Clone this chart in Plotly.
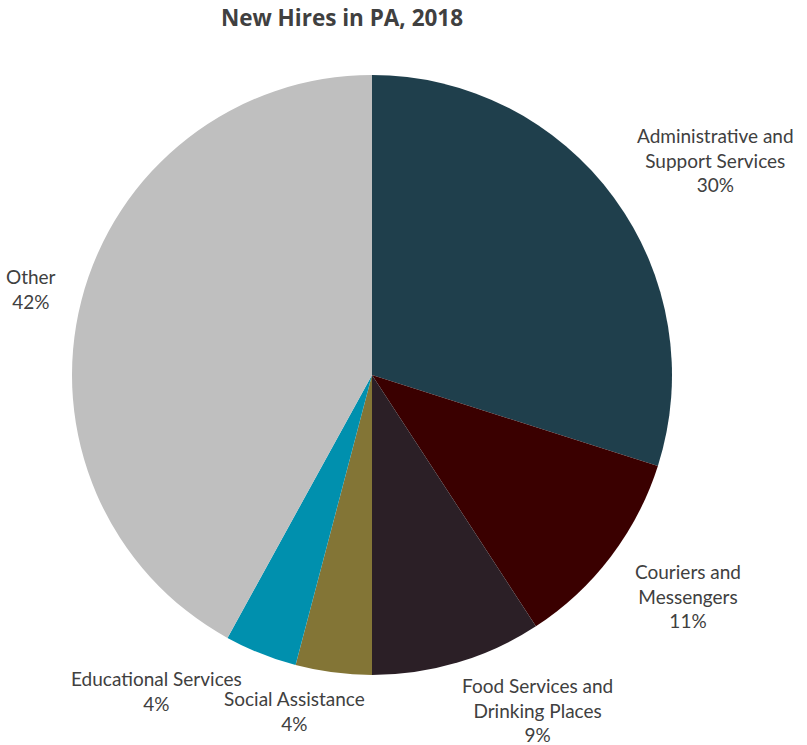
import plotly.graph_objects as go

# New hires by industry sector, Pennsylvania 2018 (share of total)
sectors = [
    "Administrative and<br>Support Services",
    "Couriers and<br>Messengers",
    "Food Services and<br>Drinking Places",
    "Social Assistance",
    "Educational Services",
    "Other",
]
shares = [29.9, 10.9, 9.2, 4.1, 3.9, 42.0]
colors = ["#1F3F4C", "#3A0000", "#2B1F26", "#837536", "#0090AE", "#BFBFBF"]

# label anchor positions in paper coordinates
label_x = [1.072, 1.027, 0.775, 0.371, 0.141, -0.068]
label_y = [0.858, 0.132, -0.058, -0.06, -0.027, 0.643]

fig = go.Figure(
    go.Pie(
        labels=[s.replace("<br>", " ") for s in sectors],
        values=shares,
        marker=dict(colors=colors, line=dict(width=0)),
        sort=False,
        direction="clockwise",
        rotation=0,
        textinfo="none",
        hoverinfo="label+percent",
        showlegend=False,
    )
)

total = sum(shares)
for name, val, x, y in zip(sectors, shares, label_x, label_y):
    pct = round(val / total * 100)
    fig.add_annotation(
        x=x, y=y, xref="paper", yref="paper",
        text=f"{name}<br>{pct}%",
        showarrow=False,
        xanchor="center", yanchor="middle",
        align="center",
        font=dict(family="Lato", size=19, color="#404040"),
    )

fig.update_layout(
    width=807, height=745,
    margin=dict(l=72, r=135, t=75, b=70),
    paper_bgcolor="white",
    plot_bgcolor="white",
    title=dict(
        text="<b>New Hires in PA, 2018</b>",
        x=342 / 807, xanchor="center",
        y=1 - 18 / 745, yanchor="middle",
        font=dict(family="Open Sans", size=22.5, color="#404040"),
    ),
)

fig.write_html("out.html")
